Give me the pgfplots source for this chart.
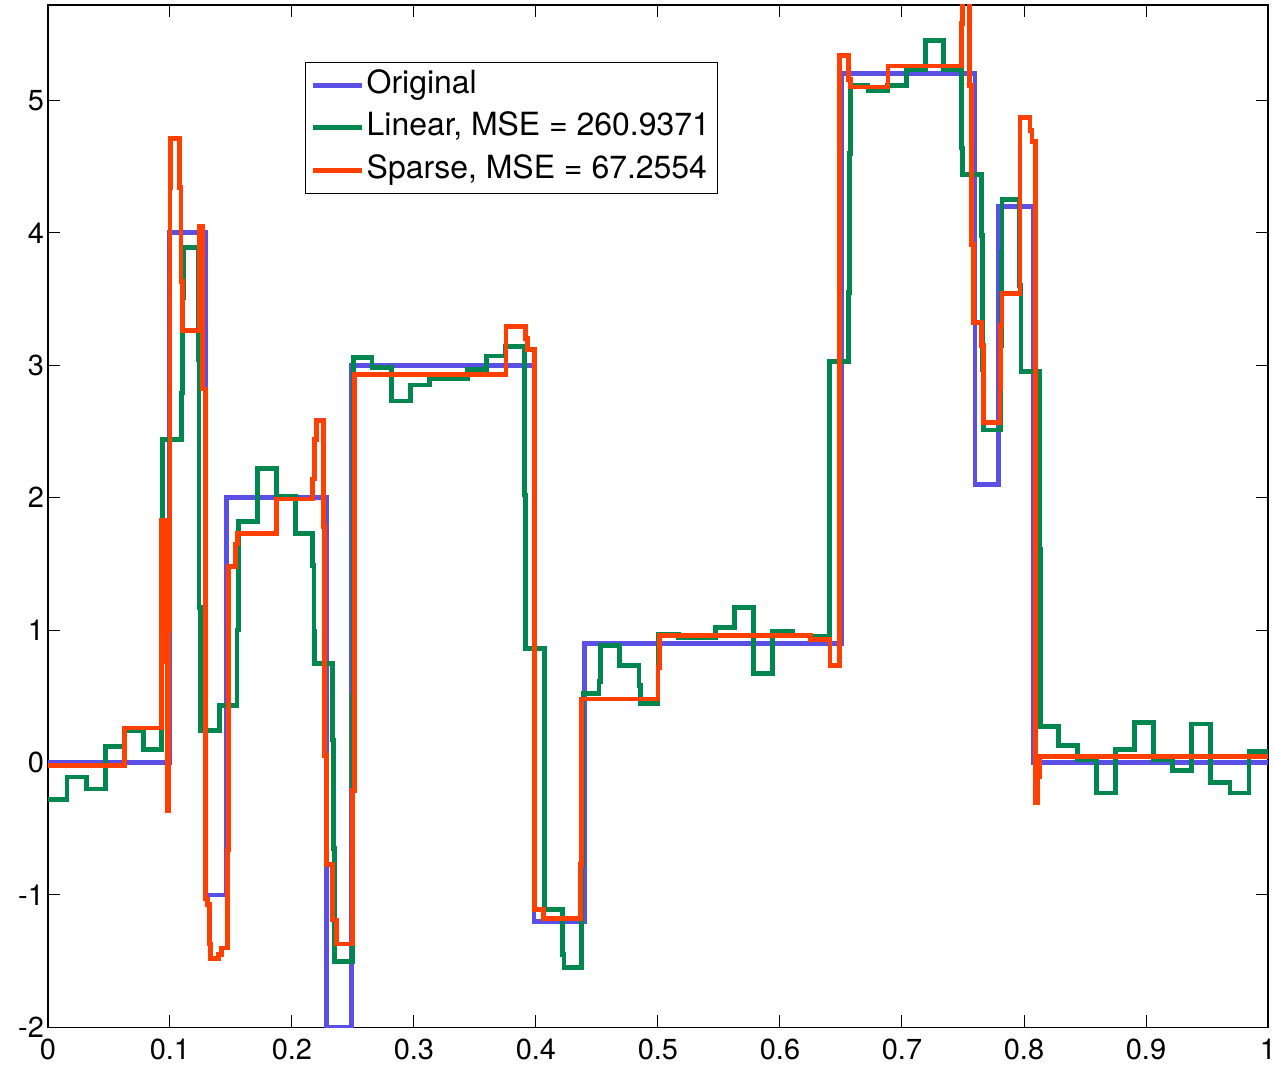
\documentclass[border=0pt]{standalone}
\usepackage{fontspec}
\setmainfont{TeX Gyre Heros}
\usepackage{pgfplots}
\pgfplotsset{compat=1.18}
\definecolor{cblue}{RGB}{90,80,230}
\definecolor{cgreen}{RGB}{0,135,80}
\definecolor{cred}{RGB}{255,64,0}
\begin{document}
\begin{tikzpicture}
\begin{axis}[
  width=611pt, height=512pt, scale only axis,
  xmin=0, xmax=1, ymin=-2, ymax=5.72,
  xtick={0,0.1,0.2,0.3,0.4,0.5,0.6,0.7,0.8,0.9,1},
  xticklabels={0,0.1,0.2,0.3,0.4,0.5,0.6,0.7,0.8,0.9,1},
  ytick={-2,-1,0,1,2,3,4,5},
  yticklabels={-2,-1,0,1,2,3,4,5},
  tick align=inside, major tick length=6pt,
  every tick/.style={black, line width=0.5pt},
  axis line style={line width=0.6pt},
  tick label style={font=\fontsize{14.5}{16}\selectfont},
  yticklabel style={xshift=1.5pt},
  xticklabel style={yshift=-2.5pt},
  legend style={at={(0.2103,0.9443)}, anchor=north west, draw=black, line width=0.5pt,
    fill=white, font=\fontsize{16}{18}\selectfont, inner xsep=3pt, inner ysep=1.5pt,
    row sep=1.25pt,
    nodes={inner xsep=1pt, inner ysep=2pt, text height=12pt, text depth=4pt},
    /tikz/every even column/.append style={column sep=0pt}},
  legend cell align=left,
  legend image code/.code={\draw[#1] (0pt,0pt) -- (24.5pt,0pt);},
  every axis plot/.append style={line width=2.4pt, const plot mark left, mark=none},
]
\addplot[cblue] coordinates {
(0,0) (0.0996,4) (0.1289,-1) (0.1465,2) (0.2285,-2) (0.2485,3) (0.3984,-1.2)
(0.4395,0.9) (0.6504,5.2) (0.7598,2.1) (0.7793,4.2) (0.808,0) (1,0)};
\addlegendentry{Original}
\addplot[cgreen] coordinates {
(0,-0.28) (0.0156,-0.11) (0.0313,-0.20) (0.0469,0.12) (0.0625,0.24) (0.0781,0.10)
(0.0930,1.31) (0.0940,2.44) (0.1094,2.79) (0.1100,3.51) (0.1110,3.89) (0.1230,3.04)
(0.1238,1.17) (0.1250,0.24) (0.1406,0.43) (0.1550,1.0) (0.1560,1.82) (0.1719,2.22)
(0.1875,2.01) (0.2031,1.73) (0.2171,1.49) (0.2180,0.99) (0.2188,0.75) (0.2335,0.17)
(0.2342,-0.65) (0.2349,-1.50) (0.2495,0.5) (0.2505,3.06) (0.2656,2.98) (0.2813,2.73)
(0.2969,2.85) (0.3125,2.90) (0.3438,2.97) (0.3594,3.07) (0.3750,3.14) (0.3903,2.02)
(0.3917,0.86) (0.4067,-1.11) (0.4217,-1.45) (0.4230,-1.55) (0.4375,-0.77) (0.4380,0.05)
(0.4385,0.52) (0.4517,0.61) (0.4530,0.885) (0.4686,0.73) (0.4844,0.58) (0.4858,0.445)
(0.5000,0.97) (0.5166,0.94) (0.5470,1.02) (0.5625,1.17) (0.5781,0.67) (0.5940,0.99)
(0.6100,0.955) (0.6406,3.03) (0.6563,3.55) (0.6570,4.6) (0.6577,5.11) (0.6721,5.07)
(0.6880,5.11) (0.7040,5.23) (0.7190,5.45) (0.7340,5.23) (0.7485,5.03) (0.7490,4.64)
(0.7496,4.44) (0.7651,3.98) (0.7660,2.97) (0.7670,2.51) (0.7810,3.15) (0.7815,3.85)
(0.7820,4.25) (0.7960,3.6) (0.7976,2.95) (0.8124,2.39) (0.8130,1.61) (0.8135,0.27)
(0.8281,0.13) (0.8438,0.02) (0.8594,-0.23) (0.8750,0.10) (0.8906,0.30) (0.9063,0.02)
(0.9219,-0.06) (0.9375,0.29) (0.9531,-0.15) (0.9688,-0.23) (0.9844,0.085) (1.0,0.085)};
\addlegendentry{Linear, MSE = 260.9371}
\addplot[cred] coordinates {
(0,-0.02) (0.0625,0.26) (0.0930,1.83) (0.0955,0.76) (0.0965,1.83) (0.0980,-0.36)
(0.0990,1.0) (0.1000,4.34) (0.1004,4.71) (0.1078,4.34) (0.1090,3.63) (0.1100,3.26)
(0.1244,4.05) (0.1270,2.82) (0.1290,-1.03) (0.1310,-1.07) (0.1325,-1.37) (0.1335,-1.48)
(0.1395,-1.45) (0.1420,-1.40) (0.1475,-0.66) (0.1480,1.48) (0.1538,1.65) (0.1557,1.73)
(0.1875,1.99) (0.2171,2.14) (0.2185,2.44) (0.2199,2.58) (0.2259,1.78) (0.2270,0.05)
(0.2280,-0.77) (0.2335,-1.19) (0.2362,-1.37) (0.2498,-0.21) (0.2510,2.93) (0.3754,3.29)
(0.3912,3.2) (0.3930,3.12) (0.3985,-1.11) (0.4060,-1.18) (0.4367,-0.77) (0.4375,0.48)
(0.5000,0.72) (0.5010,0.96) (0.6250,0.93) (0.6410,0.73) (0.6485,5.34) (0.6563,5.16)
(0.6577,5.10) (0.6885,5.26) (0.7485,5.37) (0.7490,5.58) (0.7496,5.80) (0.7556,5.11)
(0.7570,3.91) (0.7586,3.32) (0.7654,3.15) (0.7667,2.57) (0.7804,2.82) (0.7810,3.3)
(0.7820,3.54) (0.7968,4.87) (0.8050,4.77) (0.8065,4.69) (0.8093,-0.30) (0.8115,-0.11)
(0.8125,0.048) (1.0,0.048)};
\addlegendentry{Sparse, MSE = 67.2554}
\end{axis}
\pgfresetboundingbox
\path ([xshift=-24pt,yshift=-20pt]current axis.south west) rectangle ([xshift=3pt,yshift=2.5pt]current axis.north east);
\end{tikzpicture}
\end{document}
